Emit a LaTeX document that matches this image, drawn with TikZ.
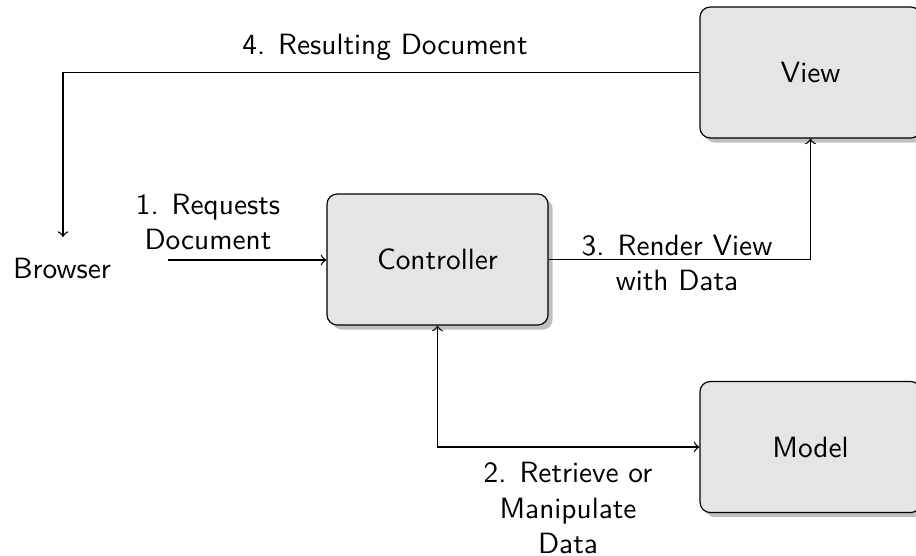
\documentclass[tikz,border=0pt]{standalone}
\usetikzlibrary{shadows}
\renewcommand{\familydefault}{\sfdefault}
\begin{document}
\begin{tikzpicture}[x=0.341pt,y=-0.341pt,
  component/.style={draw, rounded corners=3.5pt, fill=black!10,
    minimum width=221*0.341pt, minimum height=131*0.341pt,
    drop shadow={shadow xshift=1.6pt, shadow yshift=-1.6pt}},
  flow/.style={->, line width=0.45pt},
  lbl/.style={align=center, inner sep=0pt}]
\useasboundingbox (0,0) rectangle (916,555);

\node[component] (view) at (810.5,72.5) {View};
\node[component] (ctrl) at (437.5,259.5) {Controller};
\node[component] (model) at (810.5,447) {Model};
\node (browser) at (62,268) {Browser};
\coordinate (bsrc) at (168,260);
\coordinate (btop) at (63,237);

% 1. request from the browser
\draw[flow] (bsrc) -- (ctrl.west |- bsrc);
\node[lbl] at (208,222) {1. Requests\\Document};

% 2. controller <-> model
\draw[flow, <->] (ctrl.south) |- (model.west);
\node[lbl] at (568,508) {2. Retrieve or\\Manipulate\\Data};

% 3. controller -> view
\draw[flow] (ctrl.east) -| (view.south);
\node[lbl] at (677,263) {3. Render View\\with Data};

% 4. view -> browser
\draw[flow] (view.west) -| (btop);
\node[lbl] at (385,47) {4. Resulting Document};
\end{tikzpicture}
\end{document}
